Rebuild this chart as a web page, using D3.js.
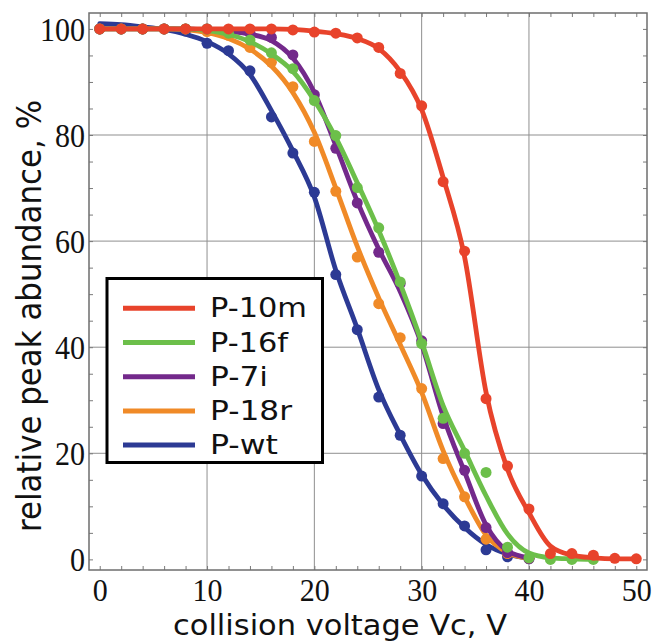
<!DOCTYPE html>
<html>
<head>
<meta charset="utf-8">
<script src="https://cdn.jsdelivr.net/npm/d3@7/dist/d3.min.js"></script>
<style>
  html, body { margin: 0; padding: 0; background: #fff; }
  svg { display: block; }
</style>
</head>
<body>
<svg id="chart" width="655" height="644"></svg>
<script>
// Collision voltage (V) at which each measurement was taken
const voltage = [0, 2, 4, 6, 8, 10, 12, 14, 16, 18, 20, 22, 24, 26, 28, 30, 32, 34, 36, 38, 40, 42, 44, 46, 48, 50];

// Measured relative peak abundance (%) per peptide, aligned with `voltage`
const p10mPoints = [100, 100, 100, 100, 100, 100, 100, 100, 100, 99.8, 99.4, 99.2, 98.3, 96.5, 91.6, 85.5, 71.2, 58.1, 30.3, 17.6, 9.5, 1.1, 1.1, 0.8, 0.2, 0.1];
const p16fPoints = [100, 100, 100, 100, 100, 100, 99.2, 97.9, 95.5, 92.5, 86.5, 79.9, 70.1, 62.5, 52.3, 40.7, 26.6, 20.0, 16.4, 2.3, 0.3, 0, 0, 0];
const p7iPoints  = [100, 100, 100, 100, 100, 100, 99.7, 99.3, 98.4, 95.1, 87.6, 77.5, 67.2, 57.9, 52.0, 41.2, 25.6, 16.8, 6.0, 1.3, 0.2];
const p18rPoints = [100, 100, 100, 100, 100, 99.5, 98.8, 96.5, 93.7, 89.1, 78.8, 69.4, 57.0, 48.2, 41.8, 32.2, 19.0, 11.8, 3.8, 1.1, 0.2];
const pwtPoints  = [100, 100, 100, 100, 99.6, 97.3, 95.9, 92.1, 83.4, 76.6, 69.2, 53.7, 43.3, 30.6, 23.4, 15.7, 10.5, 6.3, 1.8, 0.5, 0.1];

// Fitted survival curves (%) sampled at the same voltages
const p10mFit = [100, 100, 100, 100, 100, 100, 100, 100, 100, 99.9, 99.6, 99.1, 98.2, 96.3, 92.0, 84.8, 72.0, 57.0, 31.5, 17.0, 8.8, 2.5, 0.8, 0.3, 0.1, 0.1];
const p16fFit = [100, 100, 100, 100, 100, 99.7, 99.0, 97.6, 95.3, 92.0, 86.5, 79.5, 71.0, 62.0, 52.0, 41.0, 29.0, 20.5, 12.0, 4.8, 1.2, 0.3, 0.1, 0];
const p7iFit  = [100, 100, 100, 100, 100, 99.8, 99.5, 99.0, 97.8, 94.5, 88.0, 78.0, 67.5, 58.5, 50.5, 40.5, 27.0, 16.5, 6.5, 1.6, 0.3];
const p18rFit = [100, 100, 100, 100, 99.8, 99.3, 98.2, 96.2, 93.0, 88.0, 80.5, 70.0, 59.0, 49.3, 40.5, 31.5, 20.5, 11.8, 4.6, 1.3, 0.2];
const pwtFit  = [101, 100.8, 100.4, 99.9, 99.0, 97.6, 95.3, 91.4, 84.6, 77.0, 68.3, 54.5, 43.5, 32.0, 23.5, 16.0, 10.3, 6.0, 2.8, 1.0, 0.2];

const seriesNames  = ["P-10m", "P-16f", "P-7i", "P-18r", "P-wt"];
const seriesColors = ["#e8432b", "#6cbf4a", "#73298b", "#f08a27", "#2c3a94"];

const xTicks = [0, 10, 20, 30, 40, 50];
const yTicks = [0, 20, 40, 60, 80, 100];
const xGrid = [10, 20, 30, 40];
const yGrid = [20, 40, 60, 80];
const xMinor = [0, 2, 4, 6, 8, 10, 12, 14, 16, 18, 20, 22, 24, 26, 28, 30, 32, 34, 36, 38, 40, 42, 44, 46, 48, 50];
const yMinor = [0, 5, 10, 15, 20, 25, 30, 35, 40, 45, 50, 55, 60, 65, 70, 75, 80, 85, 90, 95, 100];

const xTitle = "collision voltage Vc, V";
const yTitle = "relative peak abundance, %";

const series = [
  { name: seriesNames[0], color: seriesColors[0], points: p10mPoints, fit: p10mFit },
  { name: seriesNames[1], color: seriesColors[1], points: p16fPoints, fit: p16fFit },
  { name: seriesNames[2], color: seriesColors[2], points: p7iPoints,  fit: p7iFit },
  { name: seriesNames[3], color: seriesColors[3], points: p18rPoints, fit: p18rFit },
  { name: seriesNames[4], color: seriesColors[4], points: pwtPoints,  fit: pwtFit }
];

const svg = d3.select("#chart");
const plot = { left: 89, right: 647, top: 13, bottom: 570 };

const x = d3.scaleLinear().domain([-1, 51]).range([plot.left, plot.right]);
const y = d3.scaleLinear().domain([-2, 103]).range([plot.bottom, plot.top]);

// Grid
const grid = svg.append("g").attr("stroke", "#8f8f8f").attr("stroke-width", 1);
grid.selectAll("line.gx").data(xGrid).join("line")
  .attr("x1", d => x(d)).attr("x2", d => x(d))
  .attr("y1", plot.top).attr("y2", plot.bottom);
grid.selectAll("line.gy").data(yGrid).join("line")
  .attr("y1", d => y(d)).attr("y2", d => y(d))
  .attr("x1", plot.left).attr("x2", plot.right);

// Frame with inward ticks on all four sides
const frame = svg.append("g");
const tickColor = "#7a7a7a";
function inwardAxis(axisFn, scale, ticks, size, transform) {
  const g = frame.append("g").attr("transform", transform)
    .call(axisFn(scale).tickValues(ticks).tickSize(size).tickFormat(""));
  g.select(".domain").remove();
  g.selectAll(".tick line").attr("stroke", tickColor).attr("stroke-width", 1);
  return g;
}
inwardAxis(d3.axisTop, x, xMinor, 4, `translate(0,${plot.bottom})`);
inwardAxis(d3.axisBottom, x, xMinor, 4, `translate(0,${plot.top})`);
inwardAxis(d3.axisRight, y, yMinor, 4, `translate(${plot.left},0)`);
inwardAxis(d3.axisLeft, y, yMinor, 4, `translate(${plot.right},0)`);

frame.append("rect")
  .attr("x", plot.left).attr("y", plot.top)
  .attr("width", plot.right - plot.left).attr("height", plot.bottom - plot.top)
  .attr("fill", "none").attr("stroke", "#6e6e6e").attr("stroke-width", 1.5);

// Tick labels: tall serif digits, about 15px per digit wide
const labelFont = "'Liberation Serif', 'Times New Roman', serif";
const digitWidth = 15;
const xAxis = svg.append("g").attr("transform", `translate(0,${plot.bottom})`)
  .call(d3.axisBottom(x).tickValues(xTicks).tickSize(0).tickPadding(0));
xAxis.select(".domain").remove();
xAxis.selectAll(".tick text")
  .attr("font-family", labelFont).attr("font-size", 32).attr("fill", "#111")
  .attr("y", 31).attr("dy", null)
  .attr("textLength", d => String(d).length * digitWidth)
  .attr("lengthAdjust", "spacingAndGlyphs");

const yAxis = svg.append("g").attr("transform", `translate(${plot.left},0)`)
  .call(d3.axisLeft(y).tickValues(yTicks).tickSize(0).tickPadding(0));
yAxis.select(".domain").remove();
yAxis.selectAll(".tick text")
  .attr("font-family", labelFont).attr("font-size", 34).attr("fill", "#111")
  .attr("x", -4).attr("dy", "0.33em")
  .attr("textLength", d => String(d).length * digitWidth)
  .attr("lengthAdjust", "spacingAndGlyphs");

// Axis titles
const titleFont = "'DejaVu Sans', Verdana, sans-serif";
svg.append("text")
  .attr("x", 340).attr("y", 635)
  .attr("text-anchor", "middle")
  .attr("font-family", titleFont).attr("font-size", 29).attr("fill", "#111")
  .attr("textLength", 334).attr("lengthAdjust", "spacingAndGlyphs")
  .text(xTitle);
svg.append("text")
  .attr("transform", "translate(41,316) rotate(-90)")
  .attr("text-anchor", "middle")
  .attr("font-family", titleFont).attr("font-size", 33).attr("fill", "#111")
  .attr("textLength", 432).attr("lengthAdjust", "spacingAndGlyphs")
  .text(yTitle);

// Curves and markers, drawn back to front so P-10m sits on top
const line = d3.line()
  .x(d => x(d[0])).y(d => y(d[1]))
  .curve(d3.curveMonotoneX);

const drawOrder = series.slice().reverse();
const marks = svg.append("g");
drawOrder.forEach(s => {
  const fitPts = s.fit.map((v, i) => [voltage[i], v]);
  const obs = s.points.map((v, i) => [voltage[i], v]);
  const g = marks.append("g");
  g.append("path")
    .datum(fitPts)
    .attr("d", line)
    .attr("fill", "none")
    .attr("stroke", s.color)
    .attr("stroke-width", 4.8)
    .attr("stroke-linejoin", "round")
    .attr("stroke-linecap", "round");
  g.selectAll("circle").data(obs).join("circle")
    .attr("cx", d => x(d[0])).attr("cy", d => y(d[1]))
    .attr("r", 5.5)
    .attr("fill", s.color);
});

// Legend
const legend = svg.append("g");
legend.append("rect")
  .attr("x", 107).attr("y", 278.5).attr("width", 215.5).attr("height", 184)
  .attr("fill", "#fff").attr("stroke", "#000").attr("stroke-width", 3);
const legendWidths = [97, 78, 58, 82, 68];
const rows = legend.selectAll("g.row").data(series).join("g")
  .attr("transform", (d, i) => `translate(0,${308.3 + i * 34.2})`);
rows.append("line")
  .attr("x1", 123).attr("x2", 195).attr("y1", 0).attr("y2", 0)
  .attr("stroke", d => d.color).attr("stroke-width", 5);
rows.append("text")
  .attr("x", 210).attr("y", 9)
  .attr("font-family", titleFont).attr("font-size", 26).attr("fill", "#111")
  .attr("textLength", (d, i) => legendWidths[i]).attr("lengthAdjust", "spacingAndGlyphs")
  .text(d => d.name);
</script>
</body>
</html>
